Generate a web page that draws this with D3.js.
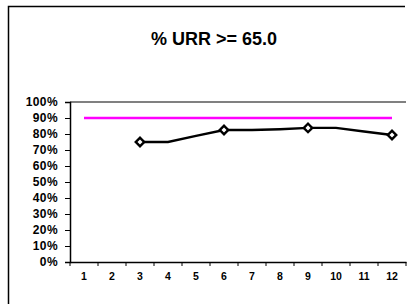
<!DOCTYPE html>
<html>
<head>
<meta charset="utf-8">
<script src="https://cdn.jsdelivr.net/npm/d3@7"></script>
<style>
  body { margin: 0; background: #fff; }
  text { font-family: Arial, "Liberation Sans", sans-serif; font-weight: bold; fill: #000; }
</style>
</head>
<body>
<svg id="grafico"></svg>
<script>
// dados
const titulo = '% URR >= 65.0';
const meses = [1, 2, 3, 4, 5, 6, 7, 8, 9, 10, 11, 12];
const valores = [null, null, 75, 75, 78.8, 82.5, 82.5, 83, 83.8, 83.8, 81.6, 79.4];
const marcadores = [3, 6, 9, 12];
const meta = 90;
const ticksY = [0, 10, 20, 30, 40, 50, 60, 70, 80, 90, 100];

const largura = 407, altura = 304;
const svg = d3.select('#grafico')
  .attr('width', largura)
  .attr('height', altura);

// moldura externa (cortada à direita e embaixo)
svg.append('path')
  .attr('d', 'M8.5,' + (altura + 5) + ' V6.5 H405')
  .attr('fill', 'none')
  .attr('stroke', '#000')
  .attr('stroke-width', 1.5);

svg.append('text')
  .attr('x', 214)
  .attr('y', 45)
  .attr('text-anchor', 'middle')
  .style('font-size', '18px')
  .text(titulo);

const esq = 70, dir = 406, topo = 102, base = 262;

const fnX = d3.scaleBand()
  .domain(meses)
  .range([esq, dir]);

const fnY = d3.scaleLinear()
  .domain([0, 100])
  .range([base, topo]);

// linha cinza no topo da área de plotagem
svg.append('line')
  .attr('x1', esq).attr('x2', dir)
  .attr('y1', fnY(100)).attr('y2', fnY(100))
  .attr('stroke', '#808080')
  .attr('stroke-width', 2.2);

// eixo Y
const eixoY = d3.axisLeft(fnY)
  .tickValues(ticksY)
  .tickSize(5)
  .tickPadding(7)
  .tickFormat(d => d + '%');
const gY = svg.append('g')
  .attr('transform', 'translate(' + esq + ',0)')
  .call(eixoY);
gY.select('.domain').attr('stroke', '#000').attr('stroke-width', 1.5);
gY.selectAll('.tick line').attr('stroke', '#000');
gY.selectAll('.tick text')
  .style('font-size', '12px')
  .style('font-family', 'Arial, "Liberation Sans", sans-serif')
  .style('letter-spacing', '0.4px');

// eixo X: rótulos no centro, marcas nas divisões
const eixoX = d3.axisBottom(fnX)
  .tickSize(0)
  .tickPadding(11);
const gX = svg.append('g')
  .attr('transform', 'translate(0,' + base + ')')
  .call(eixoX);
gX.select('.domain').attr('stroke', '#000').attr('stroke-width', 1.5);
gX.selectAll('.tick text')
  .style('font-size', '10.5px')
  .style('font-family', 'Arial, "Liberation Sans", sans-serif');

const divisoes = meses.map(m => fnX(m)).concat([fnX.range()[1]]);
gX.selectAll('.divisao')
  .data(divisoes)
  .enter()
  .append('line')
  .classed('divisao', true)
  .attr('x1', d => d).attr('x2', d => d)
  .attr('y1', 0).attr('y2', 4)
  .attr('stroke', '#000');

const centro = m => fnX(m) + fnX.bandwidth() / 2;

// linha da meta
svg.append('path')
  .datum(meses)
  .attr('fill', 'none')
  .attr('stroke', '#ff00ff')
  .attr('stroke-width', 2.5)
  .attr('d', d3.line().x(m => centro(m)).y(() => fnY(meta)));

// série
const pontos = meses.map((m, i) => ({ mes: m, valor: valores[i] }));
svg.append('path')
  .datum(pontos)
  .attr('fill', 'none')
  .attr('stroke', '#000')
  .attr('stroke-width', 2.4)
  .attr('d', d3.line()
    .defined(d => d.valor !== null)
    .x(d => centro(d.mes))
    .y(d => fnY(d.valor)));

const simbolo = d3.symbol().type(d3.symbolSquare).size(36);
svg.selectAll('.marcador')
  .data(pontos.filter(d => marcadores.includes(d.mes)))
  .enter()
  .append('path')
  .classed('marcador', true)
  .attr('d', simbolo)
  .attr('transform', d => 'translate(' + centro(d.mes) + ',' + fnY(d.valor) + ') rotate(45)')
  .attr('fill', '#fff')
  .attr('stroke', '#000')
  .attr('stroke-width', 2.4);
</script>
</body>
</html>
